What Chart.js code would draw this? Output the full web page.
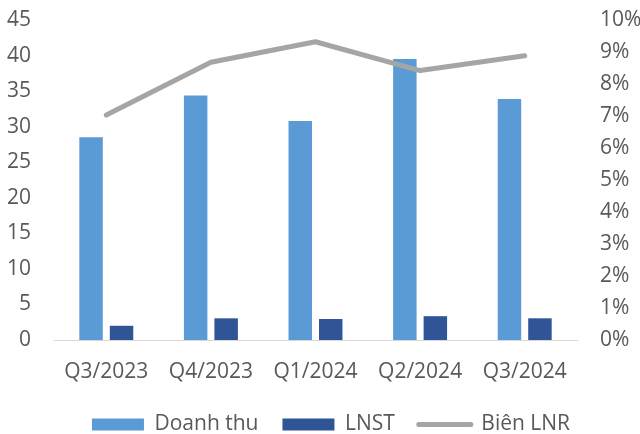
<!DOCTYPE html>
<html>
<head>
<meta charset="utf-8">
<script src="https://cdn.jsdelivr.net/npm/chart.js@4/dist/chart.umd.min.js"></script>
<style>
  html, body { margin: 0; padding: 0; background: #ffffff; }
</style>
</head>
<body>
<canvas id="chart" width="640" height="434"></canvas>
<script>
// ===== Data =====
const quarters = ["Q3/2023", "Q4/2023", "Q1/2024", "Q2/2024", "Q3/2024"];
const revenue = [28.5, 34.4, 30.8, 39.5, 33.9]; // Doanh thu
const netProfit = [2.0, 3.05, 2.95, 3.35, 3.05]; // LNST
const netMargin = [7.03, 8.68, 9.32, 8.42, 8.88]; // Biên LNR, in %

const textColor = "#595959";
const font = { family: "'Open Sans'", size: 21 };

// line legend for the margin series, boxes for the bars
function legendLabels(chart) {
  const items = Chart.defaults.plugins.legend.labels.generateLabels(chart);
  items.forEach((it) => {
    const ds = chart.data.datasets[it.datasetIndex];
    it.pointStyle = ds.type === "line" ? "line" : "rect";
    if (ds.type === "line") it.lineCap = "round";
  });
  return items;
}

// fixed axis sizes so the plot sits where the reference has it
function fixY(width) {
  return (scale) => {
    scale.width = width;
    scale.paddingTop = 0;
    scale.paddingBottom = 0;
  };
}

new Chart(document.getElementById("chart"), {
  type: "bar",
  data: {
    labels: quarters,
    datasets: [
      {
        label: "Doanh thu",
        data: revenue,
        backgroundColor: "#5b9bd5",
        yAxisID: "y",
        order: 1,
      },
      {
        label: "LNST",
        data: netProfit,
        backgroundColor: "#2f5597",
        yAxisID: "y",
        order: 1,
      },
      {
        type: "line",
        label: "Biên LNR",
        data: netMargin,
        borderColor: "#a5a5a5",
        backgroundColor: "#a5a5a5",
        borderWidth: 5,
        borderCapStyle: "round",
        borderJoinStyle: "round",
        pointRadius: 0,
        tension: 0,
        yAxisID: "y1",
        order: 0,
      },
    ],
  },
  options: {
    responsive: false,
    animation: false,
    // right padding < 0 moves the centred legend over to where it is in the reference
    layout: { padding: { top: 20, bottom: -11, left: 0, right: -22 } },
    categoryPercentage: 0.583,
    barPercentage: 0.77,
    plugins: {
      tooltip: { enabled: false },
      legend: {
        position: "bottom",
        labels: {
          color: textColor,
          font: font,
          usePointStyle: true,
          pointStyleWidth: 52,
          boxHeight: 12,
          padding: 24,
          generateLabels: legendLabels,
          sort: (a, b) => a.datasetIndex - b.datasetIndex,
        },
      },
    },
    scales: {
      x: {
        grid: { display: false, drawTicks: false },
        border: { display: true, color: "#d9d9d9", width: 1 },
        ticks: { color: textColor, font: font, padding: 19 },
        afterFit: (scale) => {
          scale.height = 50;
          scale.paddingLeft = 0;
          scale.paddingRight = 0;
        },
      },
      y: {
        position: "left",
        min: 0,
        max: 45,
        grid: { display: false, drawTicks: false },
        border: { display: false },
        ticks: { stepSize: 5, color: textColor, font: font, padding: 23 },
        afterFit: fixY(54),
      },
      y1: {
        position: "right",
        min: 0,
        max: 10,
        grid: { display: false, drawTicks: false },
        border: { display: false },
        ticks: {
          stepSize: 1,
          color: textColor,
          font: font,
          padding: 23,
          callback: (v) => v + "%",
        },
        afterFit: fixY(85),
      },
    },
  },
});
</script>
</body>
</html>
